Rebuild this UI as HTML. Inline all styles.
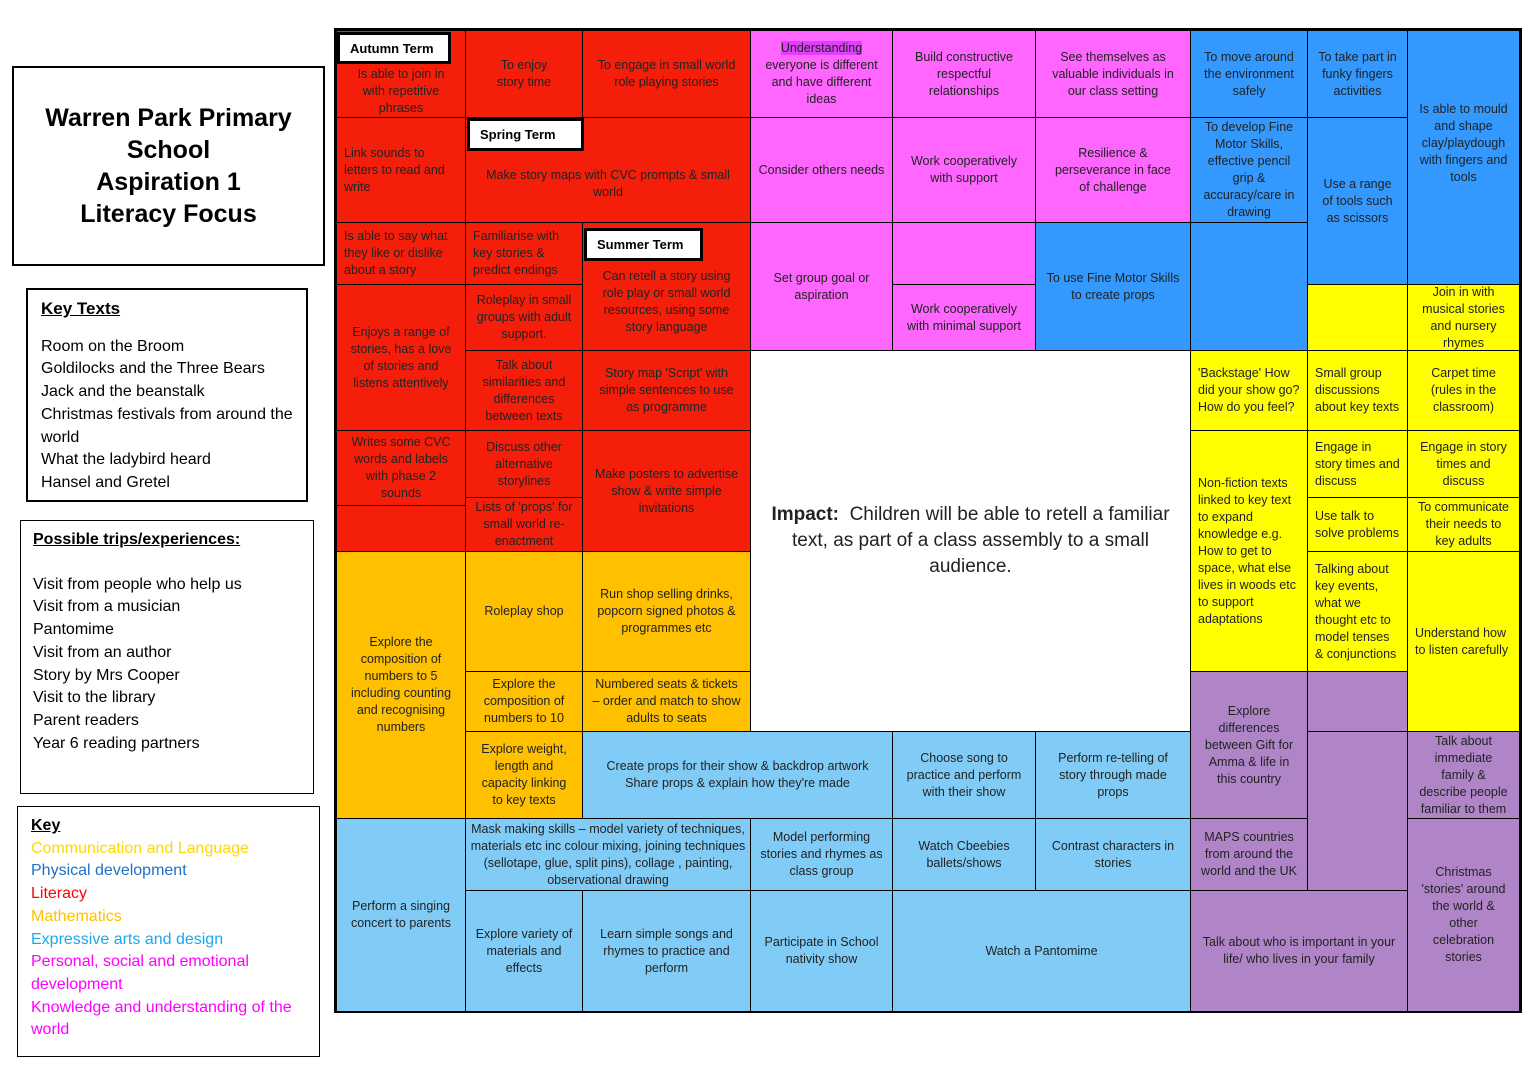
<!DOCTYPE html>
<html><head><meta charset="utf-8"><style>
body{margin:0;width:1536px;height:1086px;background:#fff;position:relative;overflow:hidden;font-family:"Liberation Sans",sans-serif;}
.c{position:absolute;box-sizing:border-box;border:1.5px solid #000;display:flex;align-items:center;justify-content:center;text-align:center;font-size:12.5px;line-height:17px;color:#222;padding:2px 9px;}
.r{background:#F51E0A;}.o{background:#FFC000;}.m{background:#FF66FF;}.b{background:#3399FF;}.lb{background:#80CCF7;}.y{background:#FFFF00;}.p{background:#B085C8;}
.L{text-align:left;justify-content:flex-start;padding-left:7px;padding-right:6px;}
.t{position:absolute;background:#fff;border:3px solid #000;box-sizing:border-box;font-weight:bold;font-size:13px;display:flex;align-items:center;padding-left:10px;}
.box{position:absolute;box-sizing:border-box;border:1.5px solid #000;background:#fff;}
</style></head><body>
<div class="box" style="left:12px;top:66px;width:313px;height:200px;border-width:2px;display:flex;align-items:center;justify-content:center;text-align:center;font-weight:bold;font-size:25px;line-height:32px;">Warren Park Primary<br>School<br>Aspiration 1<br>Literacy Focus</div>
<div class="box" style="left:26px;top:288px;width:282px;height:214px;border-width:2px;padding:8px 13px;font-size:16px;line-height:22.7px;"><b style="text-decoration:underline;font-size:17px">Key Texts</b><div style="height:14px"></div>Room on the Broom<br>Goldilocks and the Three Bears<br>Jack and the beanstalk<br>Christmas festivals from around the world<br>What the ladybird heard<br>Hansel and Gretel</div>
<div class="box" style="left:20px;top:520px;width:294px;height:274px;padding:8px 12px;font-size:16px;line-height:22.7px;"><b style="text-decoration:underline">Possible trips/experiences:</b><div style="height:22px"></div>Visit from people who help us<br>Visit from a musician<br>Pantomime<br>Visit from an author<br>Story by Mrs Cooper<br>Visit to the library<br>Parent readers<br>Year 6 reading partners</div>
<div class="box" style="left:17px;top:806px;width:303px;height:251px;padding:8px 13px;font-size:16px;line-height:22.7px;"><b style="text-decoration:underline">Key</b><br><span style="color:#FFD700">Communication and Language</span><br><span style="color:#1F6FC5">Physical development</span><br><span style="color:#FF0000">Literacy</span><br><span style="color:#FFC000">Mathematics</span><br><span style="color:#1CA8E8">Expressive arts and design</span><br><span style="color:#FF00FF">Personal, social and emotional development</span><br><span style="color:#FF00FF">Knowledge and understanding of the world</span></div>

<div style="position:absolute;left:334px;top:28px;width:1188px;height:985px;border:3px solid #000;box-sizing:border-box;"></div>
<!-- col1 -->
<div class="c r" style="left:336px;top:30px;width:130px;height:88px;padding-top:36px">Is able to join in with repetitive phrases</div>
<div class="c r L" style="left:336px;top:117px;width:130px;height:106px;">Link sounds to letters to read and write</div>
<div class="c r L" style="left:336px;top:222px;width:130px;height:63px;">Is able to say what they like or dislike about a story</div>
<div class="c r" style="left:336px;top:284px;width:130px;height:147px;">Enjoys a range of stories, has a love of stories and listens attentively</div>
<div class="c r" style="left:336px;top:430px;width:130px;height:76px;">Writes some CVC words and labels with phase 2 sounds</div>
<div class="c r" style="left:336px;top:505px;width:130px;height:47px;"></div>
<div class="c o" style="left:336px;top:551px;width:130px;height:268px;">Explore the composition of numbers to 5 including counting and recognising numbers</div>
<div class="c lb" style="left:336px;top:818px;width:130px;height:194px;">Perform a singing concert to parents</div>
<!-- col2 -->
<div class="c r" style="left:465px;top:30px;width:118px;height:88px;padding:0 20px">To enjoy story time</div>
<div class="c r" style="left:465px;top:117px;width:286px;height:106px;padding-top:30px">Make story maps with CVC prompts &amp; small world</div>
<div class="c r L" style="left:465px;top:222px;width:118px;height:63px;">Familiarise with key stories &amp; predict endings</div>
<div class="c r" style="left:465px;top:284px;width:118px;height:67px;">Roleplay in small groups with adult support.</div>
<div class="c r" style="left:465px;top:350px;width:118px;height:81px;">Talk about similarities and differences between texts</div>
<div class="c r" style="left:465px;top:430px;width:118px;height:68px;">Discuss other alternative storylines</div>
<div class="c r" style="left:465px;top:497px;width:118px;height:55px;">Lists of 'props' for small world re-enactment</div>
<div class="c o" style="left:465px;top:551px;width:118px;height:121px;">Roleplay shop</div>
<div class="c o" style="left:465px;top:671px;width:118px;height:61px;">Explore the composition of numbers to 10</div>
<div class="c o" style="left:465px;top:731px;width:118px;height:88px;">Explore weight, length and capacity linking to key texts</div>
<div class="c lb" style="left:465px;top:818px;width:286px;height:73px;padding:2px 3px">Mask making skills – model variety of techniques, materials etc inc colour mixing, joining techniques (sellotape, glue, split pins), collage , painting, observational drawing</div>
<div class="c lb" style="left:465px;top:890px;width:118px;height:122px;">Explore variety of materials and effects</div>
<!-- col3 -->
<div class="c r" style="left:582px;top:30px;width:169px;height:88px;">To engage in small world role playing stories</div>
<div class="c r" style="left:582px;top:222px;width:169px;height:129px;padding-top:32px">Can retell a story using role play or small world resources, using some story language</div>
<div class="c r" style="left:582px;top:350px;width:169px;height:81px;">Story map 'Script' with simple sentences to use as programme</div>
<div class="c r" style="left:582px;top:430px;width:169px;height:122px;">Make posters to advertise show &amp; write simple invitations</div>
<div class="c o" style="left:582px;top:551px;width:169px;height:121px;">Run shop selling drinks, popcorn signed photos &amp; programmes etc</div>
<div class="c o" style="left:582px;top:671px;width:169px;height:61px;">Numbered seats &amp; tickets – order and match to show adults to seats</div>
<div class="c lb" style="left:582px;top:731px;width:311px;height:88px;">Create props for their show &amp; backdrop artwork<br>Share props &amp; explain how they're made</div>
<div class="c lb" style="left:582px;top:890px;width:169px;height:122px;">Learn simple songs and rhymes to practice and perform</div>
<!-- col4 -->
<div class="c m" style="left:750px;top:30px;width:143px;height:88px;"><span><span style="background:#E040FB">Understanding</span> everyone is different and have different ideas</span></div>
<div class="c m" style="left:750px;top:117px;width:143px;height:106px;padding:2px 4px">Consider others needs</div>
<div class="c m" style="left:750px;top:222px;width:143px;height:129px;">Set group goal or aspiration</div>
<div class="c" style="left:750px;top:350px;width:441px;height:382px;background:#fff;font-size:19px;line-height:26px;padding:0 14px;"><span><b>Impact:</b>&nbsp; Children will be able to retell a familiar text, as part of a class assembly to a small audience.</span></div>
<div class="c lb" style="left:750px;top:818px;width:143px;height:73px;">Model performing stories and rhymes as class group</div>
<div class="c lb" style="left:750px;top:890px;width:143px;height:122px;">Participate in School nativity show</div>
<!-- col5 -->
<div class="c m" style="left:892px;top:30px;width:144px;height:88px;padding:2px 14px">Build constructive respectful relationships</div>
<div class="c m" style="left:892px;top:117px;width:144px;height:106px;">Work cooperatively with support</div>
<div class="c m" style="left:892px;top:222px;width:144px;height:63px;"></div>
<div class="c m" style="left:892px;top:284px;width:144px;height:67px;">Work cooperatively with minimal support</div>
<div class="c lb" style="left:892px;top:731px;width:144px;height:88px;">Choose song to practice and perform with their show</div>
<div class="c lb" style="left:892px;top:818px;width:144px;height:73px;">Watch Cbeebies ballets/shows</div>
<div class="c lb" style="left:892px;top:890px;width:299px;height:122px;">Watch a Pantomime</div>
<!-- col6 -->
<div class="c m" style="left:1035px;top:30px;width:156px;height:88px;">See themselves as valuable individuals in our class setting</div>
<div class="c m" style="left:1035px;top:117px;width:156px;height:106px;padding:2px 14px">Resilience &amp; perseverance in face of challenge</div>
<div class="c b" style="left:1035px;top:222px;width:156px;height:129px;">To use Fine Motor Skills to create props</div>
<div class="c lb" style="left:1035px;top:731px;width:156px;height:88px;padding:2px 14px">Perform re-telling of story through made props</div>
<div class="c lb" style="left:1035px;top:818px;width:156px;height:73px;padding:2px 14px">Contrast characters in stories</div>
<!-- col7 -->
<div class="c b" style="left:1190px;top:30px;width:118px;height:88px;">To move around the environment safely</div>
<div class="c b" style="left:1190px;top:117px;width:118px;height:106px;">To develop Fine Motor Skills, effective pencil grip &amp; accuracy/care in drawing</div>
<div class="c b" style="left:1190px;top:222px;width:118px;height:129px;"></div>
<div class="c y L" style="left:1190px;top:350px;width:118px;height:81px;">'Backstage' How did your show go? How do you feel?</div>
<div class="c y L" style="left:1190px;top:430px;width:118px;height:242px;">Non-fiction texts linked to key text to expand knowledge e.g. How to get to space, what else lives in woods etc to support adaptations</div>
<div class="c p" style="left:1190px;top:671px;width:118px;height:148px;">Explore differences between Gift for Amma &amp; life in this country</div>
<div class="c p" style="left:1190px;top:818px;width:118px;height:73px;">MAPS countries from around the world and the UK</div>
<div class="c p" style="left:1190px;top:890px;width:218px;height:122px;">Talk about who is important in your life/ who lives in your family</div>
<!-- col8 -->
<div class="c b" style="left:1307px;top:30px;width:101px;height:88px;">To take part in funky fingers activities</div>
<div class="c b" style="left:1307px;top:117px;width:101px;height:168px;">Use a range of tools such as scissors</div>
<div class="c y" style="left:1307px;top:284px;width:101px;height:67px;"></div>
<div class="c y L" style="left:1307px;top:350px;width:101px;height:81px;">Small group discussions about key texts</div>
<div class="c y L" style="left:1307px;top:430px;width:101px;height:68px;">Engage in story times and discuss</div>
<div class="c y L" style="left:1307px;top:497px;width:101px;height:55px;">Use talk to solve problems</div>
<div class="c y L" style="left:1307px;top:551px;width:101px;height:121px;">Talking about key events, what we thought etc to model tenses &amp; conjunctions</div>
<div class="c p" style="left:1307px;top:671px;width:101px;height:61px;"></div>
<div class="c p" style="left:1307px;top:731px;width:101px;height:160px;"></div>
<!-- col9 -->
<div class="c b" style="left:1407px;top:30px;width:113px;height:255px;padding-bottom:30px">Is able to mould and shape clay/playdough with fingers and tools</div>
<div class="c y" style="left:1407px;top:284px;width:113px;height:67px;">Join in with musical stories and nursery rhymes</div>
<div class="c y" style="left:1407px;top:350px;width:113px;height:81px;">Carpet time (rules in the classroom)</div>
<div class="c y" style="left:1407px;top:430px;width:113px;height:68px;">Engage in story times and discuss</div>
<div class="c y" style="left:1407px;top:497px;width:113px;height:55px;">To communicate their needs to key adults</div>
<div class="c y L" style="left:1407px;top:551px;width:113px;height:181px;">Understand how to listen carefully</div>
<div class="c p" style="left:1407px;top:731px;width:113px;height:88px;">Talk about immediate family &amp; describe people familiar to them</div>
<div class="c p" style="left:1407px;top:818px;width:113px;height:194px;">Christmas 'stories' around the world &amp; other celebration stories</div>

<div class="t" style="left:337px;top:32px;width:114px;height:32px;">Autumn Term</div>
<div class="t" style="left:467px;top:118px;width:117px;height:33px;">Spring Term</div>
<div class="t" style="left:584px;top:228px;width:119px;height:33px;">Summer Term</div>
</body></html>
